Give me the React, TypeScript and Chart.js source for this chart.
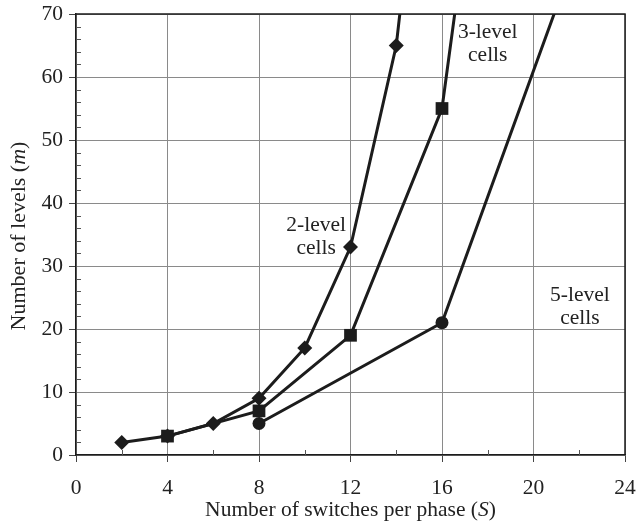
import React, { useEffect, useRef } from "react";
import { Chart, registerables } from "chart.js";

Chart.register(...registerables);

const xTwoLevel = [2, 4, 6, 8, 10, 12, 14, 16];
const yTwoLevel = [2, 3, 5, 9, 17, 33, 65, 129];
const xThreeLevel = [4, 8, 12, 16, 20];
const yThreeLevel = [3, 7, 19, 55, 163];
const xFiveLevel = [8, 16, 24];
const yFiveLevel = [5, 21, 101];

const xTicks = [0, 4, 8, 12, 16, 20, 24];
const yTicks = [0, 10, 20, 30, 40, 50, 60, 70];

const labelTexts = [["2-level", "cells"], ["3-level", "cells"], ["5-level", "cells"]];
const labelX = [10.5, 18.0, 22.03];
const labelY = [34.7, 65.3, 23.5];

const FONT = "'Liberation Serif', 'Times New Roman', serif";
const INK = "#1c1c1c";
const TEXT = "#222222";

const toPts = (xs: number[], ys: number[]) => xs.map((x, i) => ({ x, y: ys[i] }));

function drawMixed(ctx: CanvasRenderingContext2D, parts: [string, boolean][], size: number) {
  let total = 0;
  const widths: number[] = [];
  for (const [t, it] of parts) {
    ctx.font = `${it ? "italic " : ""}${size}px ${FONT}`;
    const w = ctx.measureText(t).width;
    widths.push(w);
    total += w;
  }
  let x = -total / 2;
  parts.forEach(([t, it], i) => {
    ctx.font = `${it ? "italic " : ""}${size}px ${FONT}`;
    ctx.fillText(t, x, 0);
    x += widths[i];
  });
}

const decorPlugin = {
  id: "decor",
  afterDraw(chart: any) {
    const { ctx, chartArea, scales } = chart;
    const xs = scales.x;
    const ys = scales.y;
    ctx.save();
    // minor ticks
    ctx.strokeStyle = "#555";
    ctx.lineWidth = 1;
    ctx.beginPath();
    for (let v = 2; v < 70; v += 2) {
      if (v % 10 === 0) continue;
      const py = Math.round(ys.getPixelForValue(v)) + 0.5;
      ctx.moveTo(chartArea.left, py);
      ctx.lineTo(chartArea.left + 5, py);
    }
    for (let v = 2; v < 24; v += 4) {
      const px = Math.round(xs.getPixelForValue(v)) + 0.5;
      ctx.moveTo(px, chartArea.bottom);
      ctx.lineTo(px, chartArea.bottom - 5);
    }
    ctx.stroke();

    // annotations
    ctx.fillStyle = TEXT;
    ctx.font = `21.5px ${FONT}`;
    ctx.textAlign = "center";
    ctx.textBaseline = "middle";
    labelTexts.forEach((lines, i) => {
      const cx = xs.getPixelForValue(labelX[i]);
      const cy = ys.getPixelForValue(labelY[i]);
      const lh = 23;
      lines.forEach((ln, j) => {
        ctx.fillText(ln, cx, cy + (j - (lines.length - 1) / 2) * lh);
      });
    });

    // axis titles
    ctx.textAlign = "left";
    ctx.textBaseline = "middle";
    ctx.save();
    ctx.translate((chartArea.left + chartArea.right) / 2, 510);
    drawMixed(ctx, [["Number of switches per phase (", false], ["S", true], [")", false]], 21.5);
    ctx.restore();
    ctx.save();
    ctx.translate(19, 236);
    ctx.rotate(-Math.PI / 2);
    drawMixed(ctx, [["Number of levels (", false], ["m", true], [")", false]], 22);
    ctx.restore();
    ctx.restore();
  },
};

export default function App() {
  const ref = useRef<HTMLCanvasElement>(null);
  useEffect(() => {
    document.body.style.margin = "0";
    const common = {
      borderColor: INK,
      backgroundColor: INK,
      borderWidth: 3,
      pointBorderWidth: 0,
      showLine: true,
      tension: 0,
    };
    const chart = new Chart(ref.current!, {
      type: "scatter",
      data: {
        datasets: [
          { ...common, label: "2-level cells", data: toPts(xTwoLevel, yTwoLevel), pointStyle: "rectRot", pointRadius: 7.5 },
          { ...common, label: "3-level cells", data: toPts(xThreeLevel, yThreeLevel), pointStyle: "rect", pointRadius: 9 },
          { ...common, label: "5-level cells", data: toPts(xFiveLevel, yFiveLevel), pointStyle: "circle", pointRadius: 6.5 },
        ] as any,
      },
      options: {
        animation: false,
        responsive: false,
        layout: { padding: { top: 14, right: 12, left: 0, bottom: 0 } },
        plugins: { legend: { display: false }, tooltip: { enabled: false } },
        scales: {
          x: {
            type: "linear",
            min: 0,
            max: 24,
            afterBuildTicks: (s: any) => { s.ticks = xTicks.map((v) => ({ value: v })); },
            afterFit: (s: any) => { s.height = 76; s.paddingLeft = 0; s.paddingRight = 0; },
            ticks: { color: TEXT, font: { family: FONT, size: 21.5 }, padding: 13, maxRotation: 0 },
            grid: { color: "#8a8a8a", lineWidth: 1, tickLength: 7, tickColor: "#444" },
            border: { color: INK, width: 1.5 },
          },
          y: {
            type: "linear",
            min: 0,
            max: 70,
            afterBuildTicks: (s: any) => { s.ticks = yTicks.map((v) => ({ value: v })); },
            afterFit: (s: any) => { s.width = 76; s.paddingTop = 0; s.paddingBottom = 0; },
            ticks: { color: TEXT, font: { family: FONT, size: 21.5 }, padding: 6 },
            grid: { color: "#8a8a8a", lineWidth: 1, tickLength: 7, tickColor: "#444" },
            border: { color: INK, width: 1.5 },
          },
        },
      },
      plugins: [
        decorPlugin,
        {
          id: "frame",
          afterDatasetsDraw(chart: any) {
            const { ctx, chartArea } = chart;
            ctx.save();
            ctx.strokeStyle = INK;
            ctx.lineWidth = 1.5;
            ctx.beginPath();
            ctx.moveTo(chartArea.left, chartArea.top);
            ctx.lineTo(chartArea.right, chartArea.top);
            ctx.lineTo(chartArea.right, chartArea.bottom);
            ctx.stroke();
            ctx.restore();
          },
        },
      ],
    } as any);
    return () => chart.destroy();
  }, []);
  return (
    <div style={{ width: 637, height: 531, background: "#fff" }}>
      <canvas ref={ref} width={637} height={531} style={{ display: "block" }} />
    </div>
  );
}
